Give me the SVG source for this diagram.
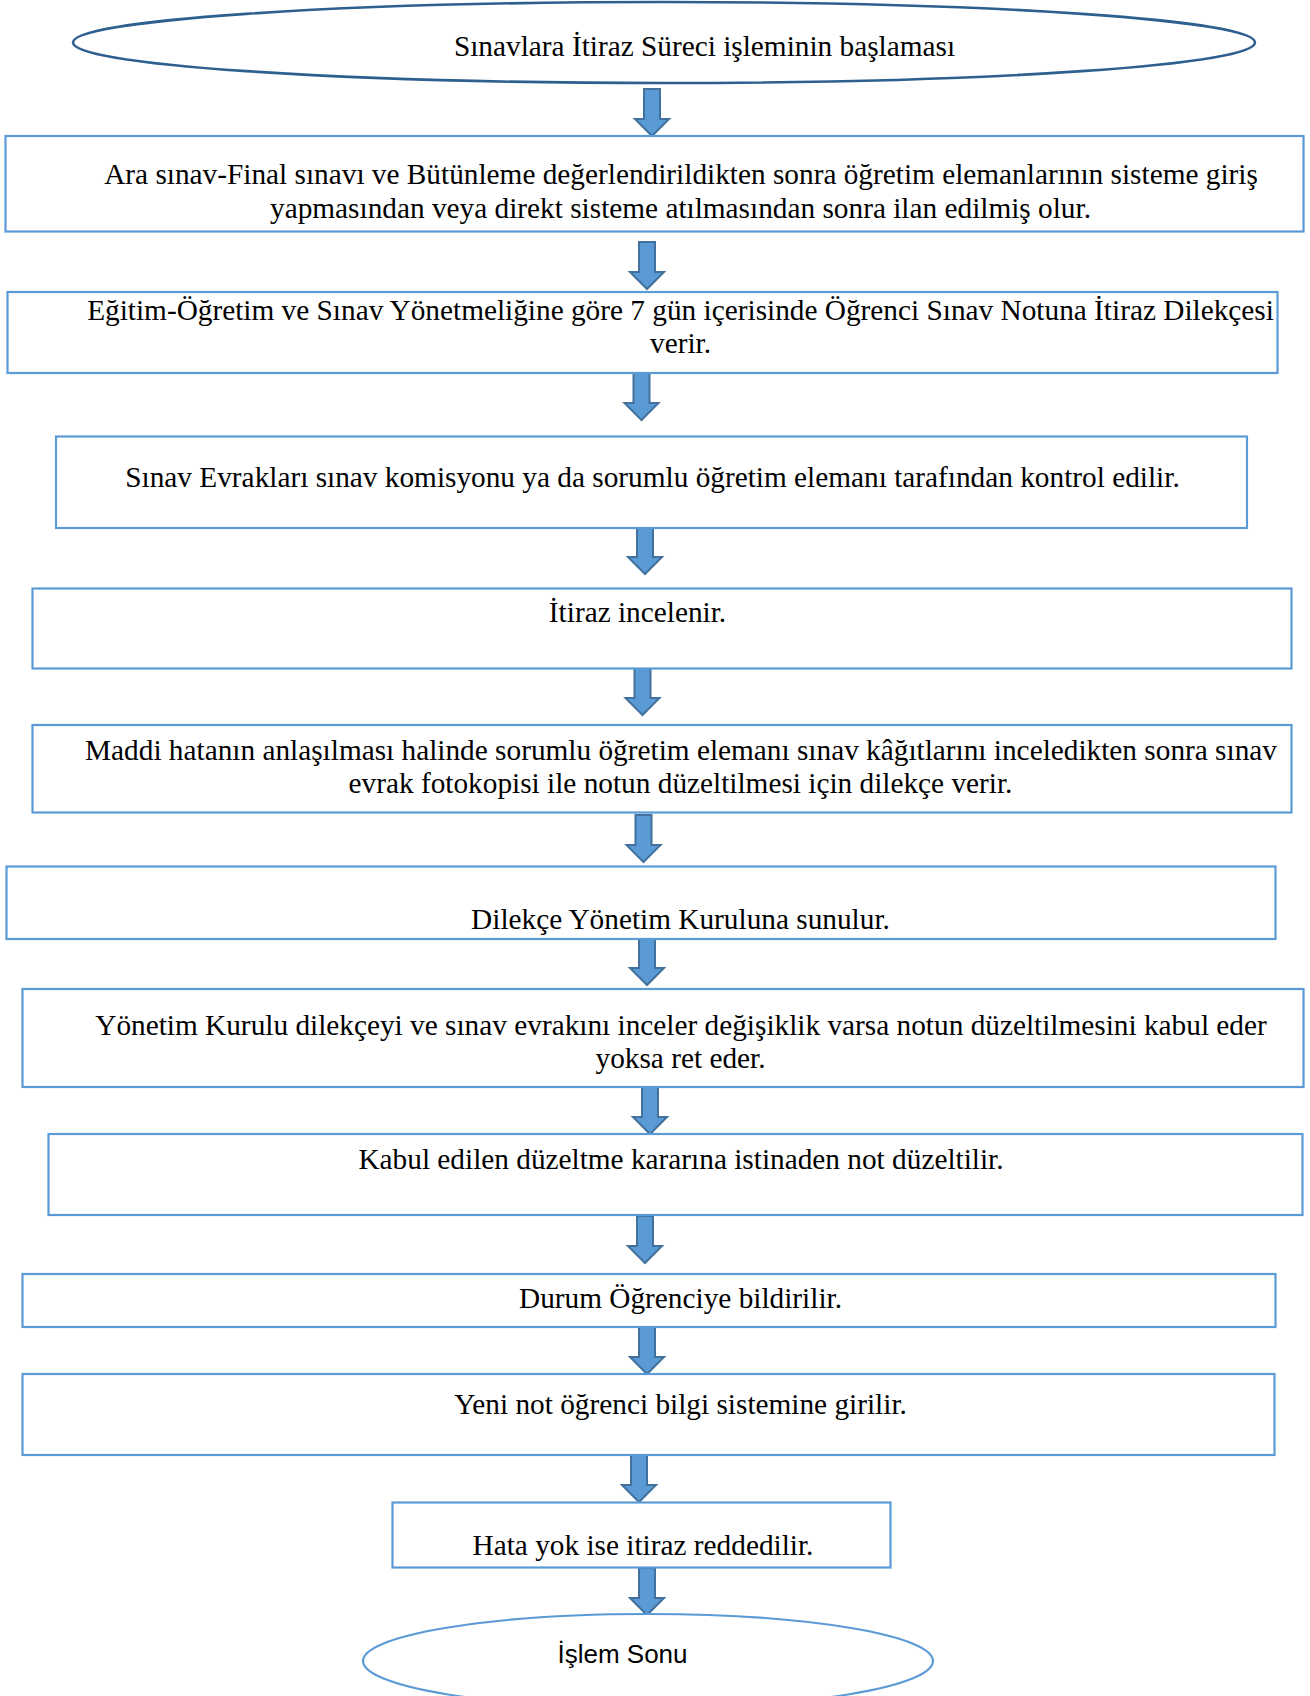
<svg xmlns="http://www.w3.org/2000/svg" xmlns:xlink="http://www.w3.org/1999/xlink" width="1310" height="1696" viewBox="0 0 1310 1696">
  <style>
    .box { fill: #ffffff; stroke: #5b9bd5; stroke-width: 2.2; }
    .start { fill: #ffffff; stroke: #2d5f8f; stroke-width: 2.6; }
    .end { fill: #ffffff; stroke: #5b9bd5; stroke-width: 2.2; }
    .t { font-family: "Liberation Serif", "Times New Roman", serif; font-size: 29.3px; fill: #000000; text-anchor: middle; }
    .ts { font-family: "Liberation Sans", Arial, sans-serif; font-size: 26px; fill: #000000; text-anchor: middle; }
    .arrow { fill: #5b9bd5; stroke: #41719c; stroke-width: 2; stroke-linejoin: miter; }
  </style>
  <defs>
    <!-- block arrow, tip at the origin, pointing down -->
    <path id="down" class="arrow" d="M -8,-47 H 8 V -17 H 17 L 0,0 L -17,-17 H -8 Z"/>
  </defs>

  <rect width="1310" height="1696" fill="#ffffff"/>

  <g id="connectors">
    <use xlink:href="#down" x="652" y="136"/>
    <use xlink:href="#down" x="647" y="289"/>
    <use xlink:href="#down" x="641.5" y="420"/>
    <use xlink:href="#down" x="645" y="574"/>
    <use xlink:href="#down" x="642.5" y="715"/>
    <use xlink:href="#down" x="643.5" y="862"/>
    <use xlink:href="#down" x="647" y="985"/>
    <use xlink:href="#down" x="650" y="1134"/>
    <use xlink:href="#down" x="645" y="1263"/>
    <use xlink:href="#down" x="647" y="1374"/>
    <use xlink:href="#down" x="639" y="1502"/>
    <use xlink:href="#down" x="647" y="1615"/>
  </g>

  <g id="n0">
    <ellipse class="start" cx="664" cy="42.5" rx="591" ry="40.5"/>
    <text class="t" x="704.5" y="56">Sınavlara İtiraz Süreci işleminin başlaması</text>
  </g>

  <g id="n1">
    <rect class="box" x="5.5" y="136" width="1298" height="95.5"/>
    <text class="t" x="681" y="184">Ara sınav-Final sınavı ve Bütünleme değerlendirildikten sonra öğretim elemanlarının sisteme giriş</text>
    <text class="t" x="680.5" y="218">yapmasından veya direkt sisteme atılmasından sonra ilan edilmiş olur.</text>
  </g>

  <g id="n2">
    <rect class="box" x="7.5" y="292" width="1270" height="81"/>
    <text class="t" x="680.5" y="320">Eğitim-Öğretim ve Sınav Yönetmeliğine göre 7 gün içerisinde Öğrenci Sınav Notuna İtiraz Dilekçesi</text>
    <text class="t" x="680.5" y="353">verir.</text>
  </g>

  <g id="n3">
    <rect class="box" x="56" y="436.5" width="1191" height="91.5"/>
    <text class="t" x="652.5" y="487">Sınav Evrakları sınav komisyonu ya da sorumlu öğretim elemanı tarafından kontrol edilir.</text>
  </g>

  <g id="n4">
    <rect class="box" x="32.5" y="588.5" width="1259" height="80"/>
    <text class="t" x="637.5" y="622">İtiraz incelenir.</text>
  </g>

  <g id="n5">
    <rect class="box" x="32.5" y="725" width="1259" height="87.5"/>
    <text class="t" x="681" y="760">Maddi hatanın anlaşılması halinde sorumlu öğretim elemanı sınav kâğıtlarını inceledikten sonra sınav</text>
    <text class="t" x="680.5" y="793">evrak fotokopisi ile notun düzeltilmesi için dilekçe verir.</text>
  </g>

  <g id="n6">
    <rect class="box" x="6.5" y="866.5" width="1269" height="72.5"/>
    <text class="t" x="680.5" y="928.5">Dilekçe Yönetim Kuruluna sunulur.</text>
  </g>

  <g id="n7">
    <rect class="box" x="22.5" y="989" width="1281" height="98"/>
    <text class="t" x="681" y="1034.5">Yönetim Kurulu dilekçeyi ve sınav evrakını inceler değişiklik varsa notun düzeltilmesini kabul eder</text>
    <text class="t" x="680.5" y="1068">yoksa ret eder.</text>
  </g>

  <g id="n8">
    <rect class="box" x="48.5" y="1134" width="1254" height="81"/>
    <text class="t" x="681" y="1168.5">Kabul edilen düzeltme kararına istinaden not düzeltilir.</text>
  </g>

  <g id="n9">
    <rect class="box" x="22.5" y="1274" width="1253" height="53"/>
    <text class="t" x="680.5" y="1308">Durum Öğrenciye bildirilir.</text>
  </g>

  <g id="n10">
    <rect class="box" x="22.5" y="1374" width="1252" height="81"/>
    <text class="t" x="680.5" y="1414">Yeni not öğrenci bilgi sistemine girilir.</text>
  </g>

  <g id="n11">
    <rect class="box" x="392.5" y="1502.5" width="498" height="65"/>
    <text class="t" x="643" y="1555">Hata yok ise itiraz reddedilir.</text>
  </g>

  <g id="n12">
    <ellipse class="end" cx="648" cy="1661" rx="285" ry="47"/>
    <text class="ts" x="622.5" y="1663">İşlem Sonu</text>
  </g>
</svg>
